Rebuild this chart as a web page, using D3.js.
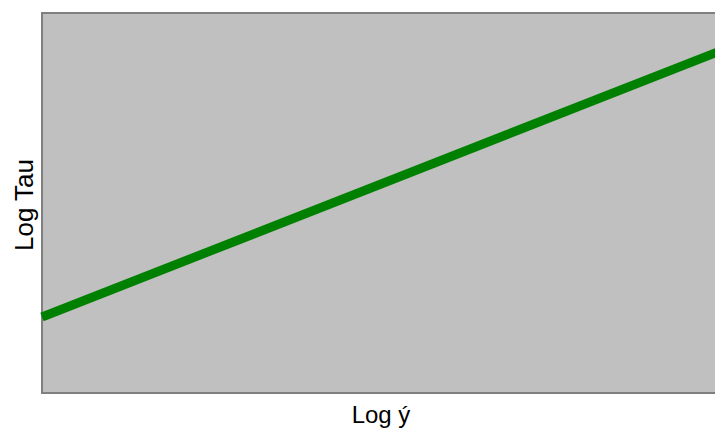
<!DOCTYPE html>
<html>
<head>
<meta charset="utf-8">
<script src="https://cdn.jsdelivr.net/npm/d3@7"></script>
<style>
  html, body { margin: 0; padding: 0; background: #fff; }
  svg { display: block; }
</style>
</head>
<body>
<svg id="chart" width="715" height="431"></svg>
<script>
// Flow curve: log shear stress against log shear rate (arbitrary units)
const logShearRate = [0, 1];
const logTau = [0.2, 0.9];
const xLabel = "Log ý";
const yLabel = "Log Tau";

const svg = d3.select("#chart");
const margin = { left: 42, top: 13, right: -5, bottom: 38 };
const W = 715, H = 431;

const x = d3.scaleLinear().domain([0, 1]).range([margin.left, W - margin.right]);
const y = d3.scaleLinear().domain([0, 1]).range([H - margin.bottom, margin.top]);

// plot area
svg.append("rect")
  .attr("x", x(0)).attr("y", y(1))
  .attr("width", x(1) - x(0)).attr("height", y(0) - y(1))
  .attr("fill", "#c0c0c0")
  .attr("stroke", "#7f7f7f")
  .attr("stroke-width", 2);

const pts = logShearRate.map((v, i) => [v, logTau[i]]);

svg.append("path")
  .datum(pts)
  .attr("d", d3.line().x(d => x(d[0])).y(d => y(d[1])))
  .attr("fill", "none")
  .attr("stroke", "#008000")
  .attr("stroke-width", 9);

// axis titles
svg.append("text")
  .attr("x", 381).attr("y", 423)
  .attr("text-anchor", "middle")
  .attr("font-family", "Liberation Sans, Arial, sans-serif")
  .attr("font-size", 24)
  .attr("fill", "#000")
  .text(xLabel);

svg.append("text")
  .attr("transform", "translate(33,205) rotate(-90)")
  .attr("text-anchor", "middle")
  .attr("font-family", "Liberation Sans, Arial, sans-serif")
  .attr("font-size", 26)
  .attr("fill", "#000")
  .text(yLabel);
</script>
</body>
</html>
